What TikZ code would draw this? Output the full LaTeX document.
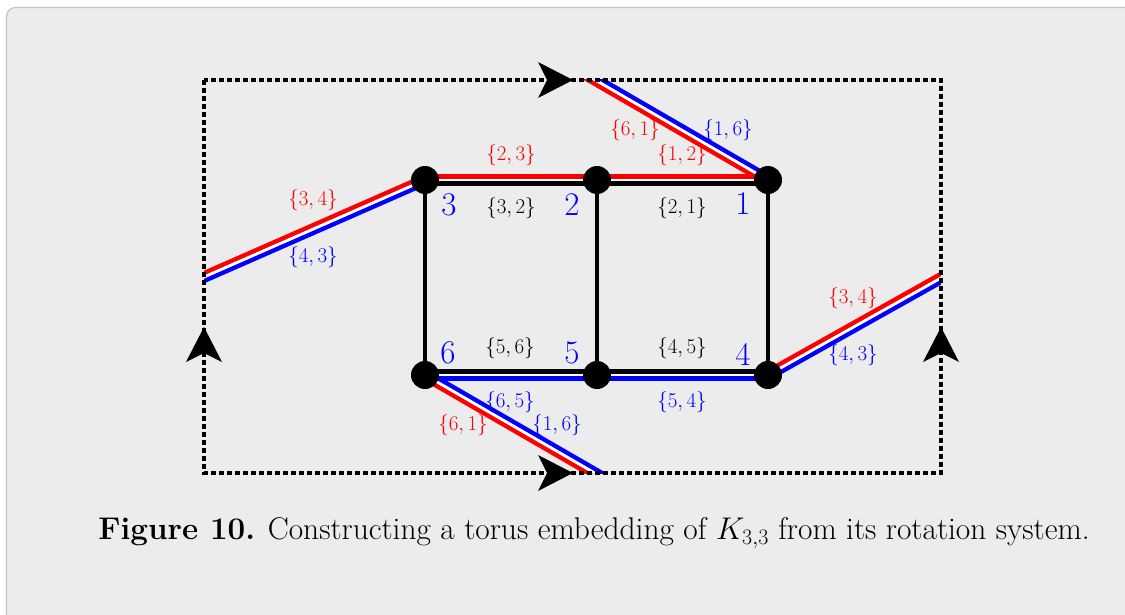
\RequirePackage{fix-cm}
\documentclass[tikz,border=0pt]{standalone}
\usetikzlibrary{calc}
\definecolor{panelbg}{HTML}{ECECEC}
\definecolor{panelline}{HTML}{C4C4C4}
\pgfdeclarelayer{panel}
\pgfdeclarelayer{edges}
\pgfsetlayers{panel,edges,main}
\newcommand\DblEdge[4]{%
  \draw[line width=4.5pt,#3] ($(#1)!3.6pt!90:(#2)$) -- ($(#2)!3.6pt!-90:(#1)$);
  \draw[line width=4.5pt,#4] ($(#1)!3.6pt!-90:(#2)$) -- ($(#2)!3.6pt!90:(#1)$);
  \draw[line width=2.7pt,white] (#1) -- (#2);}
\begin{document}
\begin{tikzpicture}[x=1pt,y=-1pt,
  vtx/.style={circle,fill=black,minimum size=28pt,inner sep=0pt},
  elab/.style={font=\fontsize{21}{24}\selectfont,inner sep=0pt},
  vlab/.style={font=\fontsize{33}{36}\selectfont,text=blue,inner sep=0pt},
  bord/.style={line width=3.1pt,dash pattern=on 5pt off 3pt},
  blk/.style={line width=4.5pt,black},
  tipfill/.style={fill=black}]
\useasboundingbox (0,0) rectangle (1125,615);
\begin{pgfonlayer}{panel}
\fill[white] (0,0) rectangle (1125,615);
\fill[panelbg, rounded corners=9pt] (6.5,660) -- (6.5,7.5) -- (1170,7.5) -- (1170,660) -- cycle;
\draw[panelline, line width=1.2pt, rounded corners=9pt] (6.5,660) -- (6.5,7.5) -- (1170,7.5);
\end{pgfonlayer}

% vertices
\node[vtx] (v3) at (425,180) {};
\node[vtx] (v2) at (597,180) {};
\node[vtx] (v1) at (768,180) {};
\node[vtx] (v6) at (425,375) {};
\node[vtx] (v5) at (597,375) {};
\node[vtx] (v4) at (768,375) {};

% free ends beyond the frame
\coordinate (T) at (578,70);
\coordinate (B) at (612,483);
\coordinate (L) at (194,281.4);
\coordinate (R) at (951,272.4);

\begin{pgfonlayer}{edges}
\draw[blk] (v3) -- (v6);
\draw[blk] (v2) -- (v5);
\draw[blk] (v1) -- (v4);
\begin{scope}
\clip (204,80) rectangle (941,473);
\DblEdge{v3}{v2}{red}{black}
\DblEdge{v2}{v1}{red}{black}
\DblEdge{v6}{v5}{black}{blue}
\DblEdge{v5}{v4}{black}{blue}
\DblEdge{v1}{T}{red}{blue}
\DblEdge{B}{v6}{red}{blue}
\DblEdge{L}{v3}{red}{blue}
\DblEdge{v4}{R}{red}{blue}
\end{scope}
% dashed frame
\draw[bord] (204,80) rectangle (941,473);
\fill[tipfill] (573,80) -- (538,62) -- (547,80) -- (538,98) -- cycle;
\fill[tipfill] (573,473) -- (538,455) -- (547,473) -- (538,491) -- cycle;
\fill[tipfill] (204,327) -- (186,362) -- (204,353) -- (222,362) -- cycle;
\fill[tipfill] (941,327) -- (923,362) -- (941,353) -- (959,362) -- cycle;
\end{pgfonlayer}

% vertex labels
\node[vlab] (n3) at (449,205) {3};
\node[vlab] (n2) at (572,205) {2};
\node[vlab] (n1) at (743,204) {1};
\node[vlab] (n6) at (448,353) {6};
\node[vlab] (n5) at (572,353) {5};
\node[vlab] (n4) at (743,354) {4};

% edge labels
\node[elab,text=red]   (a23) at (511,155) {$\{2,3\}$};
\node[elab]            (a32) at (511,208) {$\{3,2\}$};
\node[elab,text=red]   (a12) at (682,155) {$\{1,2\}$};
\node[elab]            (a21) at (682,208) {$\{2,1\}$};
\node[elab,text=red]   (a61t) at (635,130) {$\{6,1\}$};
\node[elab,text=blue]  (a16t) at (728,130) {$\{1,6\}$};
\node[elab,text=red]   (a34l) at (313,200) {$\{3,4\}$};
\node[elab,text=blue]  (a43l) at (313,257) {$\{4,3\}$};
\node[elab]            (a56) at (510,348) {$\{5,6\}$};
\node[elab]            (a45) at (682,348) {$\{4,5\}$};
\node[elab,text=blue]  (a65) at (510,402) {$\{6,5\}$};
\node[elab,text=blue]  (a54) at (682,402) {$\{5,4\}$};
\node[elab,text=red]   (a61b) at (463,425) {$\{6,1\}$};
\node[elab,text=blue]  (a16b) at (557,425) {$\{1,6\}$};
\node[elab,text=red]   (a34r) at (853,298) {$\{3,4\}$};
\node[elab,text=blue]  (a43r) at (853,355) {$\{4,3\}$};

% caption
\node[inner sep=0pt,font=\fontsize{31.4}{36}\selectfont] (cap) at (594,533)
  {\textbf{Figure 10.} Constructing a torus embedding of $K_{3,3}$ from its rotation system.};
\end{tikzpicture}
\end{document}
